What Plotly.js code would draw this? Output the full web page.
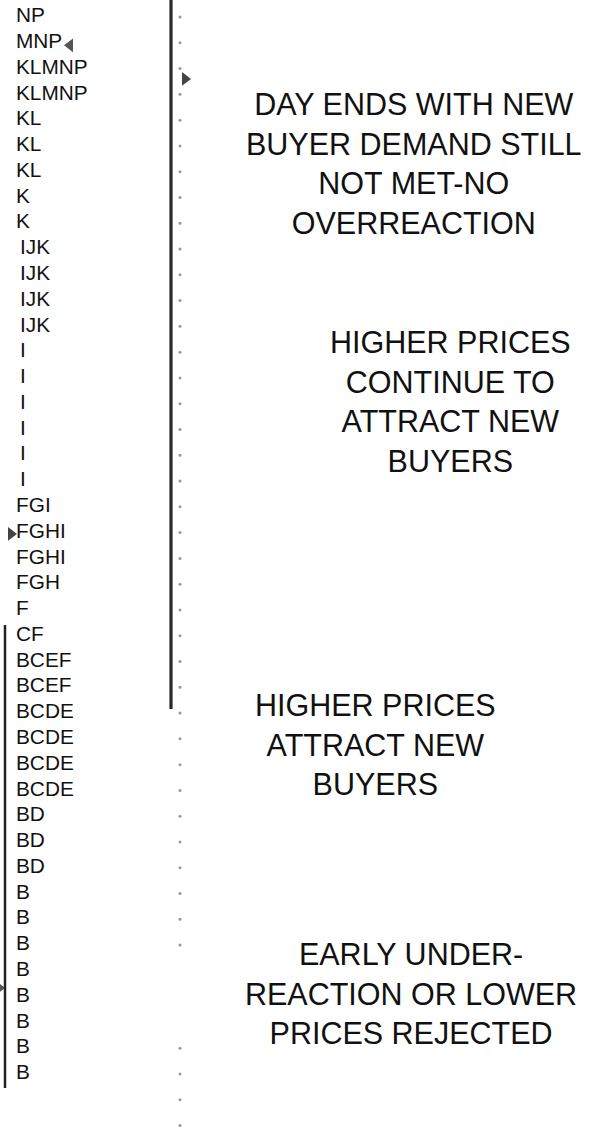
<!DOCTYPE html>
<html>
<head>
<meta charset="utf-8">
<script src="https://cdn.plot.ly/plotly-3.0.1.min.js"></script>
<style>html,body{margin:0;padding:0;background:#fff;}#chart{width:611px;height:1132px;}</style>
</head>
<body>
<div id="chart"></div>
<script>
// ---- data ----
const priceLevels = [44,43,42,41,40,39,38,37,36,35,34,33,32,31,30,29,28,27,26,25,24,23,22,21,20,19,18,17,16,15,14,13,12,11,10,9,8,7,6,5,4,3];
const tpoLetters = ["NP","MNP","KLMNP","KLMNP","KL","KL","KL","K","K","IJK","IJK","IJK","IJK","I","I","I","I","I","I","FGI","FGHI","FGHI","FGH","F","CF","BCEF","BCEF","BCDE","BCDE","BCDE","BCDE","BD","BD","BD","B","B","B","B","B","B","B","B"];
const dotLevels = [44,43,42,41,40,39,38,37,36,35,34,33,32,31,30,29,28,27,26,25,24,23,22,21,20,19,18,17,16,15,14,13,12,11,10,9,8,4,3,2,1];
const rangeTop = 44.66, rangeBottom = 0.75;
const dayRange = [rangeTop, 17.16];       // long dark line (right)
const balanceRange = [20.42, 2.46];      // left line
const arrowLeftLevels = [42.9];
const arrowRightLevels = [41.6, 23.95];
const arrowEdgeLevels = [6.34];
const notes = [
  {text: "DAY ENDS WITH NEW<br>BUYER DEMAND STILL<br>NOT MET-NO<br>OVERREACTION", level: 38.3},
  {text: "HIGHER PRICES<br>CONTINUE TO<br>ATTRACT NEW<br>BUYERS", level: 29.07},
  {text: "HIGHER PRICES<br>ATTRACT NEW<br>BUYERS", level: 15.8},
  {text: "EARLY UNDER-<br>REACTION OR LOWER<br>PRICES REJECTED", level: 6.14}
];
const noteX = [414, 450, 375, 411];

// ---- layout helpers ----
const letterX = tpoLetters.map(s => s.charAt(0) === 'I' ? 20 : 16);
const FONT = 'Liberation Sans, Arial, Helvetica, sans-serif';

const traces = [
  {
    type: 'scatter', mode: 'text',
    x: letterX, y: priceLevels, text: tpoLetters,
    textposition: 'middle right',
    textfont: {family: FONT, size: 20.8, color: '#111'},
    marker: {size: 0},
    hoverinfo: 'skip', showlegend: false
  },
  {
    type: 'scatter', mode: 'markers',
    x: dotLevels.map(() => 180), y: dotLevels,
    marker: {size: 3, color: '#999'},
    hoverinfo: 'skip', showlegend: false
  },
  {
    type: 'scatter', mode: 'markers',
    x: [70], y: arrowLeftLevels,
    marker: {symbol: 'triangle-left', size: 12, color: '#555'},
    hoverinfo: 'skip', showlegend: false
  },
  {
    type: 'scatter', mode: 'markers',
    x: [185, 11], y: arrowRightLevels,
    marker: {symbol: 'triangle-right', size: 12, color: '#444'},
    hoverinfo: 'skip', showlegend: false
  },
  {
    type: 'scatter', mode: 'markers',
    x: [1], y: arrowEdgeLevels,
    marker: {symbol: 'triangle-right', size: 8, color: '#555'},
    hoverinfo: 'skip', showlegend: false, cliponaxis: false
  }
];

const layout = {
  width: 611, height: 1132,
  margin: {l: 0, r: 0, t: 0, b: 0},
  paper_bgcolor: '#fff', plot_bgcolor: '#fff',
  xaxis: {range: [0, 611], visible: false, fixedrange: true},
  yaxis: {range: [rangeBottom, rangeTop], visible: false, fixedrange: true},
  shapes: [
    {type: 'line', xref: 'x', yref: 'y', x0: 171, x1: 171, y0: dayRange[0], y1: dayRange[1],
     line: {color: '#2a2a2a', width: 3.2}},
    {type: 'line', xref: 'x', yref: 'y', x0: 5, x1: 5, y0: balanceRange[0], y1: balanceRange[1],
     line: {color: '#222', width: 2.5}}
  ],
  annotations: notes.map((n, i) => ({
    x: noteX[i], y: n.level, xref: 'x', yref: 'y',
    text: n.text, showarrow: false, align: 'center',
    xanchor: 'center', yanchor: 'middle',
    font: {family: FONT, size: 30.5, color: '#111'}
  })),
  showlegend: false
};

Plotly.newPlot('chart', traces, layout, {staticPlot: true, displayModeBar: false});
</script>
</body>
</html>
